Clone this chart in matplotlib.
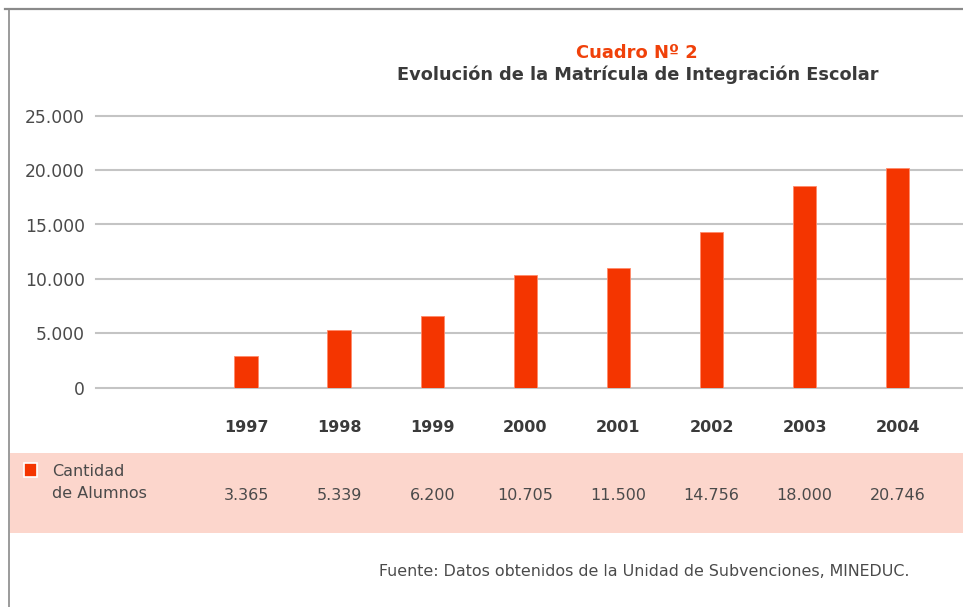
import matplotlib.pyplot as plt
from matplotlib.lines import Line2D
from matplotlib.patches import Rectangle
from matplotlib.transforms import blended_transform_factory

# years and values from the table under the chart
years = ["1997", "1998", "1999", "2000", "2001", "2002", "2003", "2004"]
alumnos = [3365, 5339, 6200, 10705, 11500, 14756, 18000, 20746]
# bar heights as drawn in the original (they don't quite match the table)
bar_heights = [2950, 5290, 6620, 10330, 11040, 14320, 18520, 20220]
y_ticks = [0, 5000, 10000, 15000, 20000, 25000]

BAR_RED = "#f43500"
TITLE_RED = "#f0410a"
TEXT_DARK = "#3a3a3a"
TEXT_GRAY = "#4a4a4a"
GRID = "#c4c4c4"
BAND = "#fcd6cc"

W, H = 963, 607


def fy(py):
    # pixel row (from top) -> figure fraction
    return 1 - py / H


def fmt_miles(v):
    return f"{v:,}".replace(",", ".")


fig = plt.figure(figsize=(W / 100, H / 100), dpi=100)
fig.patch.set_facecolor("white")

# frame lines on the top and left of the original clip
fig.add_artist(Line2D([5 / W, 1], [fy(9), fy(9)], color="#8a8a8a", lw=1.6))
fig.add_artist(Line2D([9 / W, 9 / W], [0, fy(9)], color="#8a8a8a", lw=1.2))

# pink data-table band
fig.add_artist(Rectangle((10 / W, fy(533)), 1 - 10 / W, (533 - 453) / H,
                         transform=fig.transFigure, facecolor=BAND, edgecolor="none", zorder=0))

ax = fig.add_axes([96 / W, fy(387.7), 1 - 96 / W, (387.7 - 115.7) / H])
ax.set_facecolor("none")
x = list(range(len(years)))
ax.bar(x, bar_heights, width=0.25, color=BAR_RED, edgecolor="#ff8a6a", linewidth=0.6, zorder=3)

ax.set_xlim(-1.611, 7.70)
ax.set_ylim(0, 25000)
ax.set_yticks(y_ticks)
ax.set_yticklabels([fmt_miles(v) for v in y_ticks], fontsize=12.3, color=TEXT_GRAY)
ax.tick_params(axis="y", length=0, pad=8)
ax.set_xticks([])
for v in y_ticks:
    ax.axhline(v, color=GRID, lw=1.5, zorder=1, clip_on=False)
for s in ax.spines.values():
    s.set_visible(False)

# year row and value row, aligned with the bars
tr = blended_transform_factory(ax.transData, fig.transFigure)
for i, (yr, val) in enumerate(zip(years, alumnos)):
    ax.text(i, fy(428), yr, transform=tr, ha="center", va="center",
            fontsize=11.5, fontweight="bold", color=TEXT_DARK)
    ax.text(i, fy(496), fmt_miles(val), transform=tr, ha="center", va="center",
            fontsize=11.5, color=TEXT_GRAY)

# legend key in the band
fig.add_artist(Rectangle((24 / W, fy(477)), 13 / W, 14 / H, transform=fig.transFigure,
                         facecolor=BAR_RED, edgecolor="white", lw=1.2))
fig.text(52 / W, fy(472), "Cantidad", ha="left", va="center", fontsize=11.5, color=TEXT_GRAY)
fig.text(52 / W, fy(493), "de Alumnos", ha="left", va="center", fontsize=11.5, color=TEXT_GRAY)

# titles
fig.text(637 / W, fy(53), "Cuadro Nº 2", ha="center", va="center",
         fontsize=12.9, fontweight="bold", color=TITLE_RED)
fig.text(637.5 / W, fy(75), "Evolución de la Matrícula de Integración Escolar", ha="center",
         va="center", fontsize=12.8, fontweight="bold", color=TEXT_DARK)

fig.text(909 / W, fy(572), "Fuente: Datos obtenidos de la Unidad de Subvenciones, MINEDUC.",
         ha="right", va="center", fontsize=11.4, color=TEXT_GRAY)

fig.savefig("out.png", dpi=100)
